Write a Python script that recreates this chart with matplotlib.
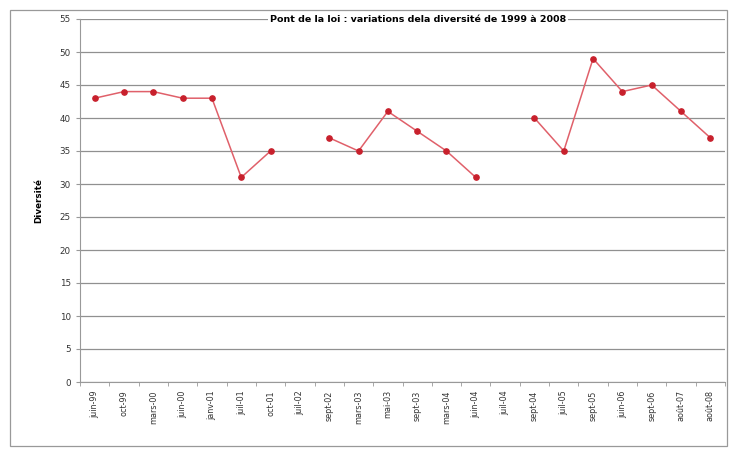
import numpy as np
import matplotlib.pyplot as plt
from matplotlib.patches import Rectangle

dates = ['juin-99', 'oct-99', 'mars-00', 'juin-00', 'janv-01', 'juil-01', 'oct-01',
         'juil-02', 'sept-02', 'mars-03', 'mai-03', 'sept-03', 'mars-04', 'juin-04',
         'juil-04', 'sept-04', 'juil-05', 'sept-05', 'juin-06', 'sept-06', 'août-07',
         'août-08']
diversite = [43, 44, 44, 43, 43, 31, 35, np.nan, 37, 35, 41, 38, 35, 31,
             np.nan, 40, 35, 49, 44, 45, 41, 37]

fig = plt.figure(figsize=(7.34, 4.49), dpi=100)
ax = fig.add_axes([80 / 734, 1 - 382 / 449, 645 / 734, 363 / 449])

x = np.arange(len(dates))
ax.plot(x, diversite, color='#e0606a', lw=1.1, marker='o', markersize=3.8,
        markerfacecolor='#c8202c', markeredgecolor='#c8202c', zorder=3)

ax.set_xlim(-0.5, len(dates) - 0.5)
ax.set_ylim(0, 55)
ax.set_yticks(range(0, 56, 5))
ax.yaxis.grid(True, color='#909090', lw=0.9)
ax.set_axisbelow(True)

ax.set_xticks(x)
ax.set_xticklabels(dates, rotation=90, fontsize=5.8, color='#333333')
ax.set_xticks(np.arange(-0.5, len(dates), 1), minor=True)
ax.tick_params(axis='x', which='major', length=0, pad=6)
ax.tick_params(axis='x', which='minor', length=3, color='#999999', direction='out')
ax.tick_params(axis='y', labelsize=6.3, colors='#333333', length=3, width=0.8)
ax.tick_params(axis='y', color='#999999')

for s in ['top', 'right']:
    ax.spines[s].set_visible(False)
for s in ['left', 'bottom']:
    ax.spines[s].set_color('#999999')
    ax.spines[s].set_linewidth(0.8)

ax.set_ylabel('Diversité', fontsize=6.3, fontweight='bold', labelpad=12)

fig.text(418 / 734, 1 - 19 / 449, 'Pont de la loi : variations dela diversité de 1999 à 2008',
         fontsize=6.8, fontweight='bold', ha='center', va='center',
         bbox=dict(facecolor='white', edgecolor='none', pad=1.5), zorder=5)

# cadre extérieur du graphique
fig.patches.append(Rectangle((10 / 734, 3 / 449), 717 / 734, 436 / 449,
                             transform=fig.transFigure, fill=False,
                             edgecolor='#999999', lw=0.9))

fig.savefig('out.png', dpi=100)
